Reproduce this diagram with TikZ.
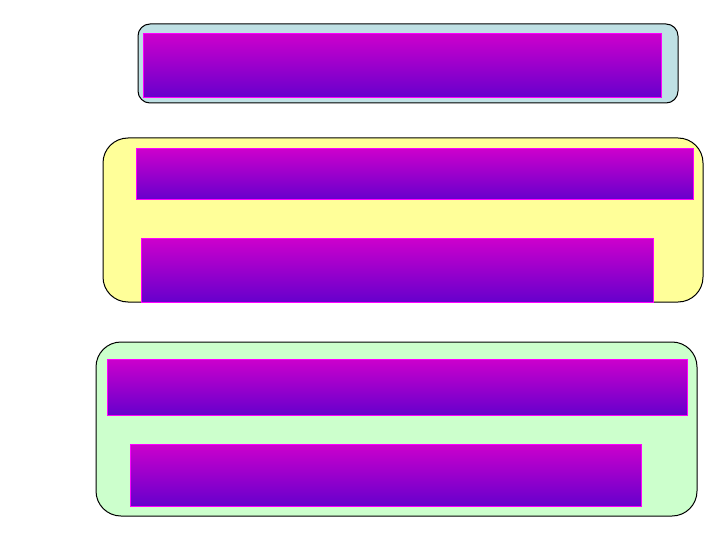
\documentclass[tikz,border=0pt]{standalone}
\usepackage{xcolor}
\usepackage{tikz}
\usetikzlibrary{positioning}
\definecolor{panelblue}{RGB}{191,224,228}
\definecolor{panelyellow}{RGB}{255,255,153}
\definecolor{panelgreen}{RGB}{204,255,204}
\definecolor{bartop}{RGB}{204,0,204}
\definecolor{barbottom}{RGB}{102,0,204}
\definecolor{baredge}{RGB}{255,0,255}
\tikzset{
  groupbox/.style={
    draw=black, line width=1bp, inner sep=0pt, outer sep=0pt,
    anchor=north west
  },
  shadebar/.style={
    draw=baredge, line width=1bp, inner sep=0pt, outer sep=0pt,
    anchor=north west, top color=bartop, bottom color=barbottom
  },
}
\begin{document}
\begin{tikzpicture}[x=1bp, y=-1bp]
  \useasboundingbox[fill=white] (0,0) rectangle (720,540);

  % top panel
  \node[groupbox, fill=panelblue, rounded corners=12bp,
    minimum width=540bp, minimum height=79bp] (grpone) at (138,24) {};
  \node[shadebar, minimum width=518bp, minimum height=64bp]
    (barone) at (143,34) {};

  % middle panel
  \node[groupbox, fill=panelyellow, rounded corners=25bp,
    minimum width=600bp, minimum height=164bp] (grptwo) at (103,138) {};
  \node[shadebar, minimum width=557bp, minimum height=51bp]
    (bartwoa) at (136,149) {};
  \node[shadebar, minimum width=512bp, minimum height=63bp]
    (bartwob) at (141,239) {};

  % bottom panel
  \node[groupbox, fill=panelgreen, rounded corners=25bp,
    minimum width=601bp, minimum height=174bp] (grpthree) at (96,342) {};
  \node[shadebar, minimum width=580bp, minimum height=56bp]
    (barthreea) at (107,359) {};
  \node[shadebar, minimum width=511bp, minimum height=62bp]
    (barthreeb) at (130,444) {};
\end{tikzpicture}
\end{document}
